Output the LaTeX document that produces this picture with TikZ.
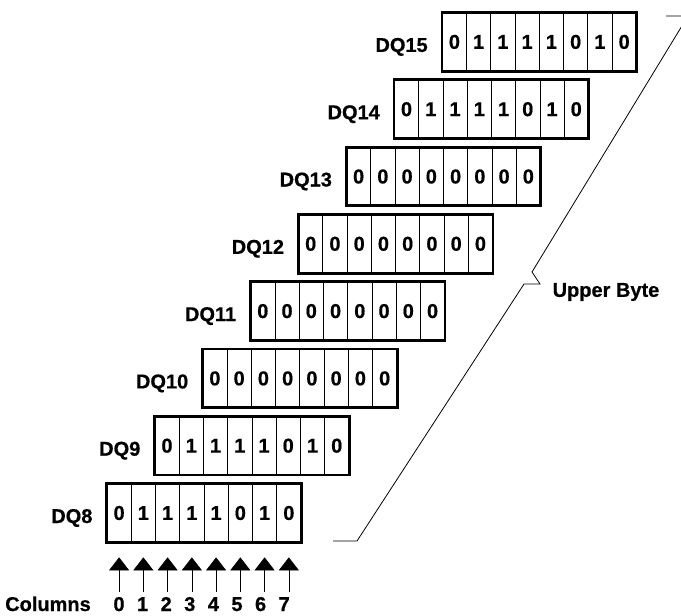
\documentclass[tikz,border=0pt]{standalone}
\usepackage{fontspec}
\setmainfont{Liberation Sans}[BoldFeatures={FakeBold=0.6}]
\usetikzlibrary{arrows.meta}
\begin{document}
\begin{tikzpicture}[x=1pt,y=-1pt]
    \tikzstyle{cell}=[draw,line width=0.7pt,minimum width=24.25pt,minimum height=58pt,inner sep=0pt,font=\fontsize{20}{20}\selectfont\bfseries]
    \tikzstyle{reg}=[line width=2.8pt]
    \tikzstyle{lbl}=[anchor=base east,inner sep=0pt,font=\fontsize{20}{20}\selectfont\bfseries]
    \tikzstyle{col}=[anchor=base,inner sep=0pt,font=\fontsize{20}{20}\selectfont\bfseries]
    \tikzstyle{colarrow}=[-{Triangle[width=20pt,length=13pt]},line width=0.7pt,shorten <=5pt,shorten >=15pt]
    \useasboundingbox (0,0) rectangle (681,616);

    % registers DQ8 ... DQ15
    \foreach \n/\bits [count=\i from 0] in {8/{0,1,1,1,1,0,1,0},9/{0,1,1,1,1,0,1,0},10/{0,0,0,0,0,0,0,0},11/{0,0,0,0,0,0,0,0},12/{0,0,0,0,0,0,0,0},13/{0,0,0,0,0,0,0,0},14/{0,1,1,1,1,0,1,0},15/{0,1,1,1,1,0,1,0}}{
      \foreach \b [count=\k from 0] in \bits
        \node (r\n-\k) at (119.1+47.9*\i+24.25*\k, 513-67.3*\i) [cell] {\b};
      \draw[reg] (r\n-0.north west) rectangle (r\n-7.south east);
      \node (dq\n) at ([xshift=-14pt,yshift=-10pt]r\n-0.west) [lbl] {DQ\n};
    }

    % columns
    \node (cols) at (5,611) [col,anchor=base west] {Columns};
    \foreach \k in {0,...,7}{
      \node (c\k) at (119+23.6*\k, 611) [col] {\k};
      \draw[colarrow] (r8-\k.south |- c\k.north) -- (r8-\k.south);
    }

    % upper byte bracket
    \draw[line width=0.8pt] (333,541) -- (357,541) -- (524,284) -- (540,284) -- (532,272) -- (688,16) -- (666,16);
    \node (ub) at (606,292) [lbl,anchor=center] {Upper Byte};
\end{tikzpicture}
\end{document}
